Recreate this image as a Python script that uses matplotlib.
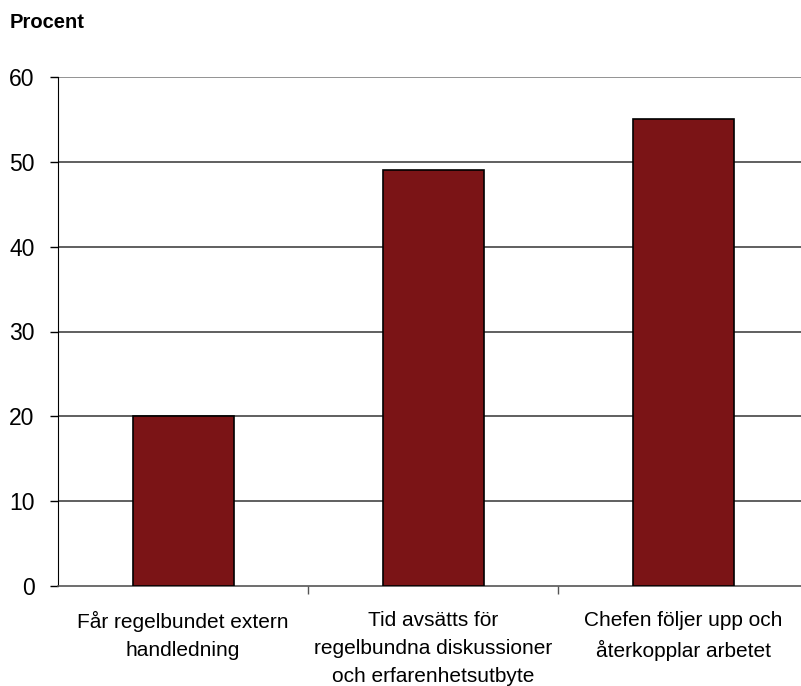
import matplotlib.pyplot as plt

plt.rcParams['font.family'] = ['Liberation Sans', 'DejaVu Sans']

# Andel (procent) per påstående
categories = [
    'Får regelbundet extern\nhandledning',
    'Tid avsätts för\nregelbundna diskussioner\noch erfarenhetsutbyte',
    'Chefen följer upp och\nåterkopplar arbetet',
]
values = [20, 49, 55]
yticks = [0, 10, 20, 30, 40, 50, 60]

fig = plt.figure(figsize=(8.01, 6.86), dpi=100)
ax = fig.add_axes([58 / 801, 100 / 686, 750 / 801, 509 / 686])

x = range(len(values))
ax.bar(x, values, width=0.404, color='#7B1416', edgecolor='black', linewidth=1.2, zorder=3)

ax.set_xlim(-0.5, len(values) - 0.5)
ax.set_ylim(0, 60)
ax.set_yticks(yticks)
ax.set_yticklabels([str(t) for t in yticks], fontsize=16.5)
ax.tick_params(axis='y', direction='out', length=6, width=1, pad=11, color='black')

# kategorietiketter mellan tickstrecken
ax.set_xticks([0.5, 1.5])
ax.set_xticklabels([])
ax.tick_params(axis='x', direction='out', length=6, width=1, color='#555555')
for i, lab in enumerate(categories):
    ax.text(i, -2.95, lab, ha='center', va='top', fontsize=15, linespacing=1.6)

for t in yticks[1:]:
    ax.axhline(t, color='#808080' if t == 60 else '#444444', linewidth=1.2, zorder=1)

for side in ['top', 'right']:
    ax.spines[side].set_visible(False)
ax.spines['left'].set_color('black')
ax.spines['bottom'].set_color('#555555')
ax.spines['bottom'].set_linewidth(1.2)

fig.text(10 / 801, 1 - 22 / 686, 'Procent', fontsize=14.5, fontweight='bold', va='center', ha='left')

fig.savefig('out.png', dpi=100)
